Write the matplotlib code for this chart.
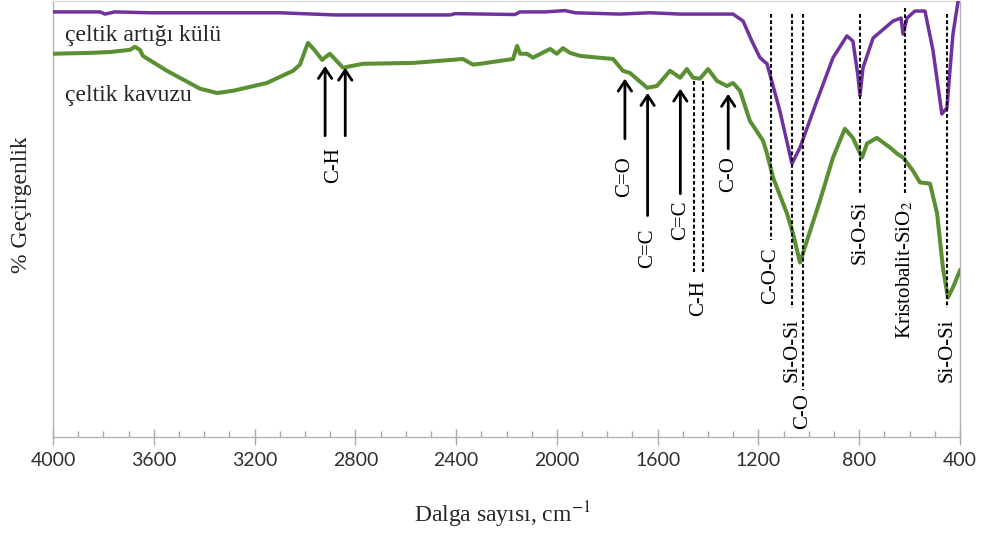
import matplotlib
matplotlib.use("Agg")
import matplotlib.pyplot as plt
from matplotlib.ticker import MultipleLocator

# ---------------- data ----------------
# çeltik artığı külü (purple)
ash_wn = [4000, 3813, 3794, 3754, 3615, 3099, 2881, 2424, 2404, 2166, 2146, 2047,
          1968, 1928, 1750, 1630, 1511, 1301, 1261, 1226, 1194, 1166, 1115, 1067,
          1035, 968, 904, 849, 825, 805, 797, 785, 745, 666, 634, 626, 610, 579,
          539, 507, 472, 452, 428, 408]
ash_T = [97.5, 97.5, 97.0, 97.5, 97.3, 97.3, 96.8, 96.8, 97.1, 96.9, 97.5, 97.5,
         97.8, 97.3, 97.0, 97.3, 97.0, 97.0, 95.4, 90.8, 87.0, 85.6, 74.8, 62.7,
         66.4, 77.1, 87.0, 92.0, 90.8, 82.8, 78.3, 84.7, 91.5, 95.4, 96.1, 92.4,
         96.1, 97.7, 97.7, 88.6, 74.1, 75.5, 92.4, 99.8]

# çeltik kavuzu (green)
husk_wn = [4000, 3853, 3774, 3694, 3675, 3655, 3643, 3548, 3417, 3349, 3286, 3151,
           3047, 3020, 2988, 2960, 2932, 2901, 2849, 2770, 2571, 2373, 2333, 2305,
           2174, 2158, 2146, 2119, 2095, 2027, 2000, 1976, 1948, 1908, 1777, 1738,
           1710, 1642, 1603, 1551, 1511, 1484, 1460, 1432, 1400, 1365, 1325, 1301,
           1273, 1234, 1182, 1166, 1142, 1087, 1063, 1035, 1007, 956, 904, 857,
           825, 789, 769, 730, 678, 650, 626, 587, 559, 519, 491, 468, 448, 428, 400]
husk_T = [87.9, 88.1, 88.3, 88.8, 89.5, 88.8, 87.4, 84.0, 79.9, 78.9, 79.4, 81.2,
          84.0, 85.4, 90.4, 88.6, 86.5, 87.9, 84.7, 85.6, 85.8, 86.7, 85.4, 85.6,
          86.7, 89.7, 87.9, 87.9, 87.0, 89.0, 87.9, 89.2, 88.1, 87.4, 86.7, 84.0,
          83.5, 80.1, 80.5, 84.0, 82.4, 84.4, 82.4, 82.2, 84.4, 81.7, 80.5, 81.2,
          79.4, 72.5, 68.0, 65.0, 59.5, 51.3, 46.7, 40.0, 45.1, 54.2, 64.1, 70.7,
          68.6, 64.1, 67.3, 68.6, 66.4, 65.0, 64.1, 61.1, 58.4, 58.1, 51.3, 38.9,
          32.0, 34.3, 38.2]

series_names = ["çeltik artığı külü", "çeltik kavuzu"]
x_ticks = [4000, 3600, 3200, 2800, 2400, 2000, 1600, 1200, 800, 400]

# arrow annotations: (label, wavenumbers, arrow tip T, arrow tail T, label top T)
arrow_labels = ["C-H", "C=O", "C=C", "C=C", "C-O"]
arrow_wn = [[2920, 2840], [1730], [1640], [1510], [1320]]
arrow_tip = [[85.1, 84.7], [82.2], [78.9], [79.9], [78.7]]
arrow_tail = [69.1, 68.4, 50.8, 55.8, 66.1]
arrow_text_top = [66.4, 64.5, 47.8, 54.2, 64.5]
arrow_text_wn = [2885, 1730, 1640, 1510, 1320]

# dashed-line annotations
dash_labels = ["C-H", "C-O-C", "Si-O-Si", "C-O", "Si-O-Si", "Kristobalit-SiO$_2$", "Si-O-Si"]
dash_wn = [[1455, 1420], [1150], [1065], [1025], [795], [620], [450]]
dash_top = [81.7, 97.0, 97.0, 97.0, 97.0, 98.4, 97.0]
dash_bottom = [37.8, 45.1, 29.7, 10.8, 56.0, 56.0, 29.7]
dash_text_top = [35.9, 43.5, 27.2, 10.1, 54.2, 54.2, 27.2]
dash_text_wn = [1438, 1150, 1065, 1025, 795, 620, 450]

# ---------------- plot ----------------
plt.rcParams['mathtext.fontset'] = 'stix'
serif = ['Liberation Serif', 'DejaVu Serif']

fig = plt.figure(figsize=(9.81, 5.33), dpi=100)
ax = fig.add_axes([53/981, (533-437)/533, (960-53)/981, 436/533])
ax.set_xlim(4000, 400)
ax.set_ylim(0, 100)

ax.plot(husk_wn, husk_T, color='#5a8f32', lw=2.9, solid_joinstyle='round', zorder=3)
ax.plot(ash_wn, ash_T, color='#7030a0', lw=2.5, solid_joinstyle='round', zorder=3)

for lab, wns, tips, tail, ttop, twn in zip(arrow_labels, arrow_wn, arrow_tip,
                                            arrow_tail, arrow_text_top, arrow_text_wn):
    for w, tip in zip(wns, tips):
        ax.annotate('', xy=(w, tip), xytext=(w, tail),
                    arrowprops=dict(arrowstyle='->,head_length=0.45,head_width=0.3',
                                    lw=2.0, color='black',
                                    mutation_scale=16, shrinkA=0, shrinkB=0),
                    zorder=4)
    ax.text(twn, ttop, lab, rotation=90, ha='center', va='top',
            fontsize=15, family=serif, color='black')

for lab, wns, top, bot, ttop, twn in zip(dash_labels, dash_wn, dash_top, dash_bottom,
                                         dash_text_top, dash_text_wn):
    for w in wns:
        ax.plot([w, w], [top, bot], color='black', lw=1.5,
                ls=(0, (1.8, 1.2)), zorder=4)
    ax.text(twn, ttop, lab, rotation=90, ha='center', va='top',
            fontsize=15, family=serif, color='black')

ax.text(0.013, 0.922, series_names[0], transform=ax.transAxes, fontsize=17,
        family=serif, va='center', ha='left', color='#262626')
ax.text(0.013, 0.784, series_names[1], transform=ax.transAxes, fontsize=17,
        family=serif, va='center', ha='left', color='#262626')

ax.set_xticks(x_ticks)
ax.set_xticklabels([str(t) for t in x_ticks], family=['Lato', 'DejaVu Sans'],
                   fontsize=14, color='#303030')
ax.xaxis.set_minor_locator(MultipleLocator(100))
ax.tick_params(axis='x', which='major', direction='inout', length=11, width=1,
               color='#a8a8a8', pad=5)
ax.tick_params(axis='x', which='minor', direction='in', length=4, width=1,
               color='#a8a8a8')
ax.set_yticks([])
for s in ax.spines.values():
    s.set_color('#b4b4b4')
    s.set_linewidth(1.0)
ax.spines['top'].set_color('#dcdcdc')

fig.text(503/981, 1 - 515/533, 'Dalga sayısı, cm$^{-1}$', ha='center', va='center',
         fontsize=17, family=serif, color='#262626')
fig.text(22/981, 1 - 205/533, '% Geçirgenlik', ha='center', va='center',
         rotation=90, fontsize=17, family=serif, color='#262626')

fig.savefig('out.png', dpi=100)
